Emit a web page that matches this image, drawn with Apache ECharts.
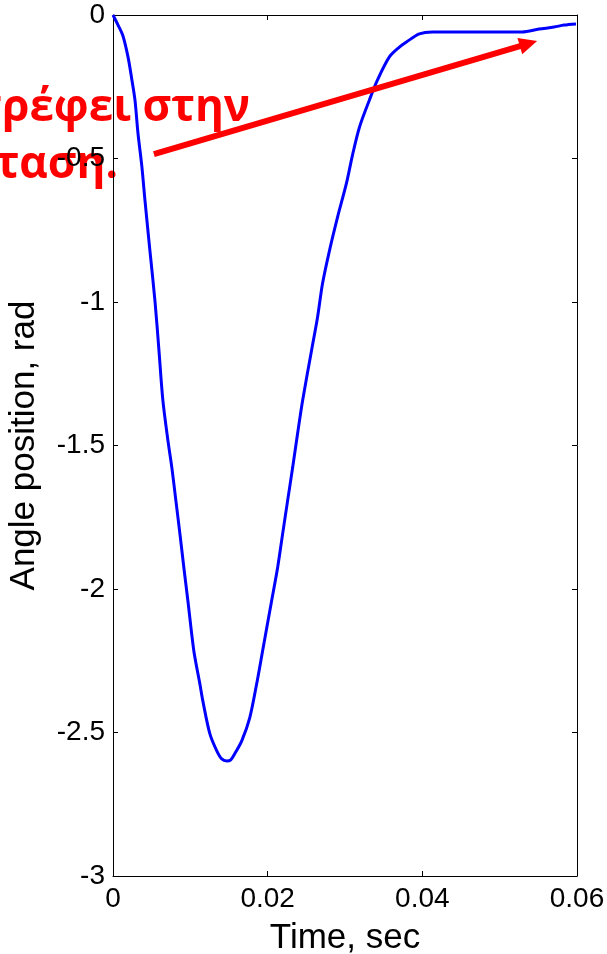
<!DOCTYPE html>
<html>
<head>
<meta charset="utf-8">
<script src="https://cdn.jsdelivr.net/npm/echarts@6/dist/echarts.min.js"></script>
<style>html,body{margin:0;padding:0;background:#fff}#c{width:607px;height:954px}</style>
</head>
<body>
<div id="c"></div>
<script>
// time (s)
const timeSec = [0.0000,0.00065,0.00129,0.00194,0.00245,0.00284,0.00323,0.00374,0.00413,0.00477,0.00542,0.00594,0.00645,0.00710,0.00761,0.00813,0.00865,0.00916,0.00968,0.01045,0.01123,0.01161,0.01252,0.01342,0.01406,0.01471,0.01523,0.01574,0.01665,0.01768,0.01858,0.01935,0.02052,0.02129,0.02194,0.02258,0.02323,0.02387,0.02452,0.02568,0.02645,0.02710,0.02800,0.02903,0.03019,0.03097,0.03187,0.03316,0.03419,0.03574,0.03703,0.03794,0.03961,0.04129,0.05290,0.05510,0.05703,0.05832,0.05987];
// angle (rad)
const angleRad = [0.000,-0.035,-0.073,-0.146,-0.227,-0.296,-0.412,-0.530,-0.645,-0.820,-0.994,-1.168,-1.343,-1.482,-1.577,-1.692,-1.807,-1.925,-2.040,-2.215,-2.330,-2.389,-2.504,-2.564,-2.592,-2.599,-2.595,-2.574,-2.529,-2.449,-2.330,-2.215,-2.040,-1.925,-1.807,-1.692,-1.577,-1.458,-1.343,-1.168,-1.053,-0.935,-0.820,-0.705,-0.586,-0.488,-0.391,-0.296,-0.227,-0.146,-0.112,-0.094,-0.066,-0.059,-0.059,-0.049,-0.042,-0.035,-0.031];
const xTickLabels = ['0','0.02','0.04','0.06'];
const yTickLabels = ['-3','-2.5','-2','-1.5','-1','-0.5','0'];
const annotationLines = ['Επιστρέφει στην','κατάσταση.'];
// arrow in data coordinates [time, angle]
const arrowFrom = [0.00529, -0.485];
const arrowTo = [0.05484, -0.0907];

const chart = echarts.init(document.getElementById('c'));
const axisFont = 'Liberation Sans, Arial, sans-serif';
function common(){
  return {
    axisLine:{show:true,onZero:false,lineStyle:{color:'#000',width:1}},
    axisTick:{show:true,inside:true,length:5,lineStyle:{color:'#000'}},
    splitLine:{show:false}
  };
}
chart.setOption({
  animation:false,
  backgroundColor:'#fff',
  grid:{left:113,right:30,top:15,bottom:78,containLabel:false,outerBoundsMode:'none'},
  xAxis:[
    Object.assign({type:'value',position:'bottom',min:0,max:0.06,interval:0.02,
      name:'Time, sec',nameLocation:'middle',nameGap:45,
      nameTextStyle:{color:'#000',fontSize:35,fontFamily:axisFont},
      axisLabel:{color:'#000',fontSize:28,fontFamily:axisFont,margin:9,
        formatter:v=>xTickLabels[Math.round(v/0.02)]}},common()),
    Object.assign({type:'value',position:'top',min:0,max:0.06,interval:0.02,axisLabel:{show:false}},common())
  ],
  yAxis:[
    Object.assign({type:'value',position:'left',min:-3,max:0,interval:0.5,
      name:'Angle position, rad',nameLocation:'middle',nameGap:71,
      nameTextStyle:{color:'#000',fontSize:35,fontFamily:axisFont},
      axisLabel:{color:'#000',fontSize:28,fontFamily:axisFont,margin:8,
        formatter:v=>yTickLabels[Math.round((v+3)/0.5)]}},common()),
    Object.assign({type:'value',position:'right',min:-3,max:0,interval:0.5,axisLabel:{show:false}},common())
  ],
  series:[{
    type:'line',xAxisIndex:0,yAxisIndex:0,showSymbol:false,symbol:'none',
    smooth:0.3,z:5,
    lineStyle:{color:'#0000ff',width:3},
    data:timeSec.map((t,i)=>[t,angleRad[i]])
  }]
});

const p0 = chart.convertToPixel({xAxisIndex:0,yAxisIndex:0}, arrowFrom);
const p1 = chart.convertToPixel({xAxisIndex:0,yAxisIndex:0}, arrowTo);
const dx=p1[0]-p0[0], dy=p1[1]-p0[1], L=Math.hypot(dx,dy);
const ux=dx/L, uy=dy/L, nx=-uy, ny=ux;
const headLen=18, headHalf=8.5;
const bx=p1[0]-ux*headLen, by=p1[1]-uy*headLen;
const textFont = 'bold 44px "Open Sans", "Noto Sans", sans-serif';
chart.setOption({
  graphic:[
    {type:'text',z:-10,style:{text:annotationLines[0],x:250,y:108,align:'right',verticalAlign:'middle',fill:'#ff0000',font:textFont}},
    {type:'text',z:-10,style:{text:annotationLines[1],x:118,y:165,align:'right',verticalAlign:'middle',fill:'#ff0000',font:textFont}},
    {type:'line',z:100,shape:{x1:p0[0],y1:p0[1],x2:bx+ux*2,y2:by+uy*2},style:{stroke:'#ff0000',lineWidth:6}},
    {type:'polygon',z:100,shape:{points:[[p1[0],p1[1]],[bx+nx*headHalf,by+ny*headHalf],[bx-nx*headHalf,by-ny*headHalf]]},style:{fill:'#ff0000'}}
  ]
});
</script>
</body>
</html>
